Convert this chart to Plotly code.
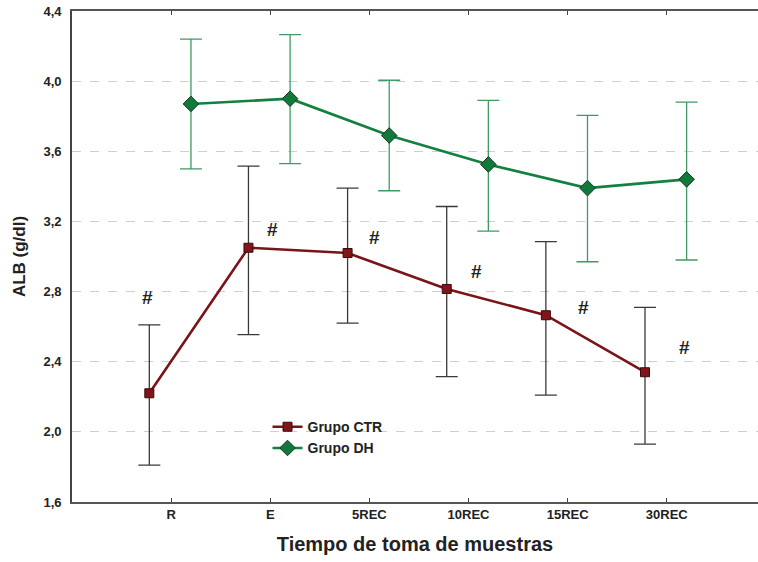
import plotly.graph_objects as go

# Sampling times
categories = ["R", "E", "5REC", "10REC", "15REC", "30REC"]

# Albumin (g/dl): group means and error-bar limits
ctr_mean = [2.22, 3.05, 3.02, 2.815, 2.665, 2.34]
ctr_upper = [2.61, 3.515, 3.39, 3.285, 3.085, 2.71]
ctr_lower = [1.81, 2.555, 2.62, 2.315, 2.21, 1.93]

dh_mean = [3.87, 3.90, 3.69, 3.525, 3.39, 3.44]
dh_upper = [4.24, 4.265, 4.005, 3.89, 3.805, 3.88]
dh_lower = [3.50, 3.53, 3.375, 3.145, 2.97, 2.98]

# Significance marks (text and vertical placement)
sig_text = ["#", "#", "#", "#", "#", "#"]
sig_y = [2.765, 3.155, 3.11, 2.915, 2.71, 2.48]
sig_dx = [-0.235, 0.025, 0.05, 0.085, 0.163, 0.18]

y_ticks = [1.6, 2.0, 2.4, 2.8, 3.2, 3.6, 4.0, 4.4]

FONT = "Liberation Sans, Arial, sans-serif"
CTR_LINE = "#7a1418"
CTR_MARK = "#82141a"
DH_LINE = "#12803f"
DH_MARK = "#0f7a3a"

idx = list(range(len(categories)))
ctr_x = [i - 0.22 for i in idx]
dh_x = [i + 0.20 for i in idx]

fig = go.Figure()

fig.add_trace(go.Scatter(
    x=ctr_x, y=ctr_mean, name="<b>Grupo CTR</b>", mode="lines+markers",
    line=dict(color=CTR_LINE, width=2.6),
    marker=dict(symbol="square", size=9, color=CTR_MARK,
                line=dict(color="#3a0a0c", width=1)),
    error_y=dict(type="data", symmetric=False,
                 array=[u - m for u, m in zip(ctr_upper, ctr_mean)],
                 arrayminus=[m - l for m, l in zip(ctr_mean, ctr_lower)],
                 color="#3a3a3a", thickness=1.3, width=11),
))

fig.add_trace(go.Scatter(
    x=dh_x, y=dh_mean, name="<b>Grupo DH</b>", mode="lines+markers",
    line=dict(color=DH_LINE, width=2.6),
    marker=dict(symbol="diamond", size=12, color=DH_MARK,
                line=dict(color="#1c3322", width=1)),
    error_y=dict(type="data", symmetric=False,
                 array=[u - m for u, m in zip(dh_upper, dh_mean)],
                 arrayminus=[m - l for m, l in zip(dh_mean, dh_lower)],
                 color="#3f9a63", thickness=1.3, width=11),
))

for i, (t, y, dx) in enumerate(zip(sig_text, sig_y, sig_dx)):
    fig.add_annotation(x=i + dx, y=y, text=f"<b>{t}</b>", showarrow=False,
                       font=dict(family=FONT, size=19, color="#222222"))

fig.update_layout(
    width=758, height=562,
    margin=dict(l=72, r=0, t=11, b=60),
    paper_bgcolor="white", plot_bgcolor="white",
    font=dict(family=FONT, color="#222222"),
    showlegend=True,
    legend=dict(x=0.285, y=0.185, xanchor="left", yanchor="top",
                bgcolor="rgba(0,0,0,0)", itemwidth=30, tracegroupgap=0,
                font=dict(family=FONT, size=14, color="#222222"),
                traceorder="normal"),
)

fig.update_xaxes(
    range=[-1.0, 5.92],
    tickvals=idx, ticktext=[f"<b>{c}</b>" for c in categories],
    tickfont=dict(family=FONT, size=13, color="#222222"),
    showgrid=False, zeroline=False,
    showline=True, linecolor="#555555", linewidth=1.6, mirror="ticks",
    ticks="inside", ticklen=4, tickcolor="#444444",
    title=dict(text="<b>Tiempo de toma de muestras</b>",
               font=dict(family=FONT, size=20, color="#222222"), standoff=16),
)

fig.update_yaxes(
    range=[1.6, 4.4],
    tickvals=y_ticks,
    ticktext=[f"<b>{v:.1f}</b>".replace(".", ",") for v in y_ticks],
    tickfont=dict(family=FONT, size=13, color="#222222"),
    showgrid=True, gridcolor="#cfcfcf", griddash="dash", gridwidth=1,
    zeroline=False,
    showline=True, linecolor="#444444", linewidth=1.6,
    ticks="", ticklabelstandoff=6,
    title=dict(text="<b>ALB (g/dl)</b>",
               font=dict(family=FONT, size=17, color="#222222"), standoff=14),
)

fig.write_html("out.html")
